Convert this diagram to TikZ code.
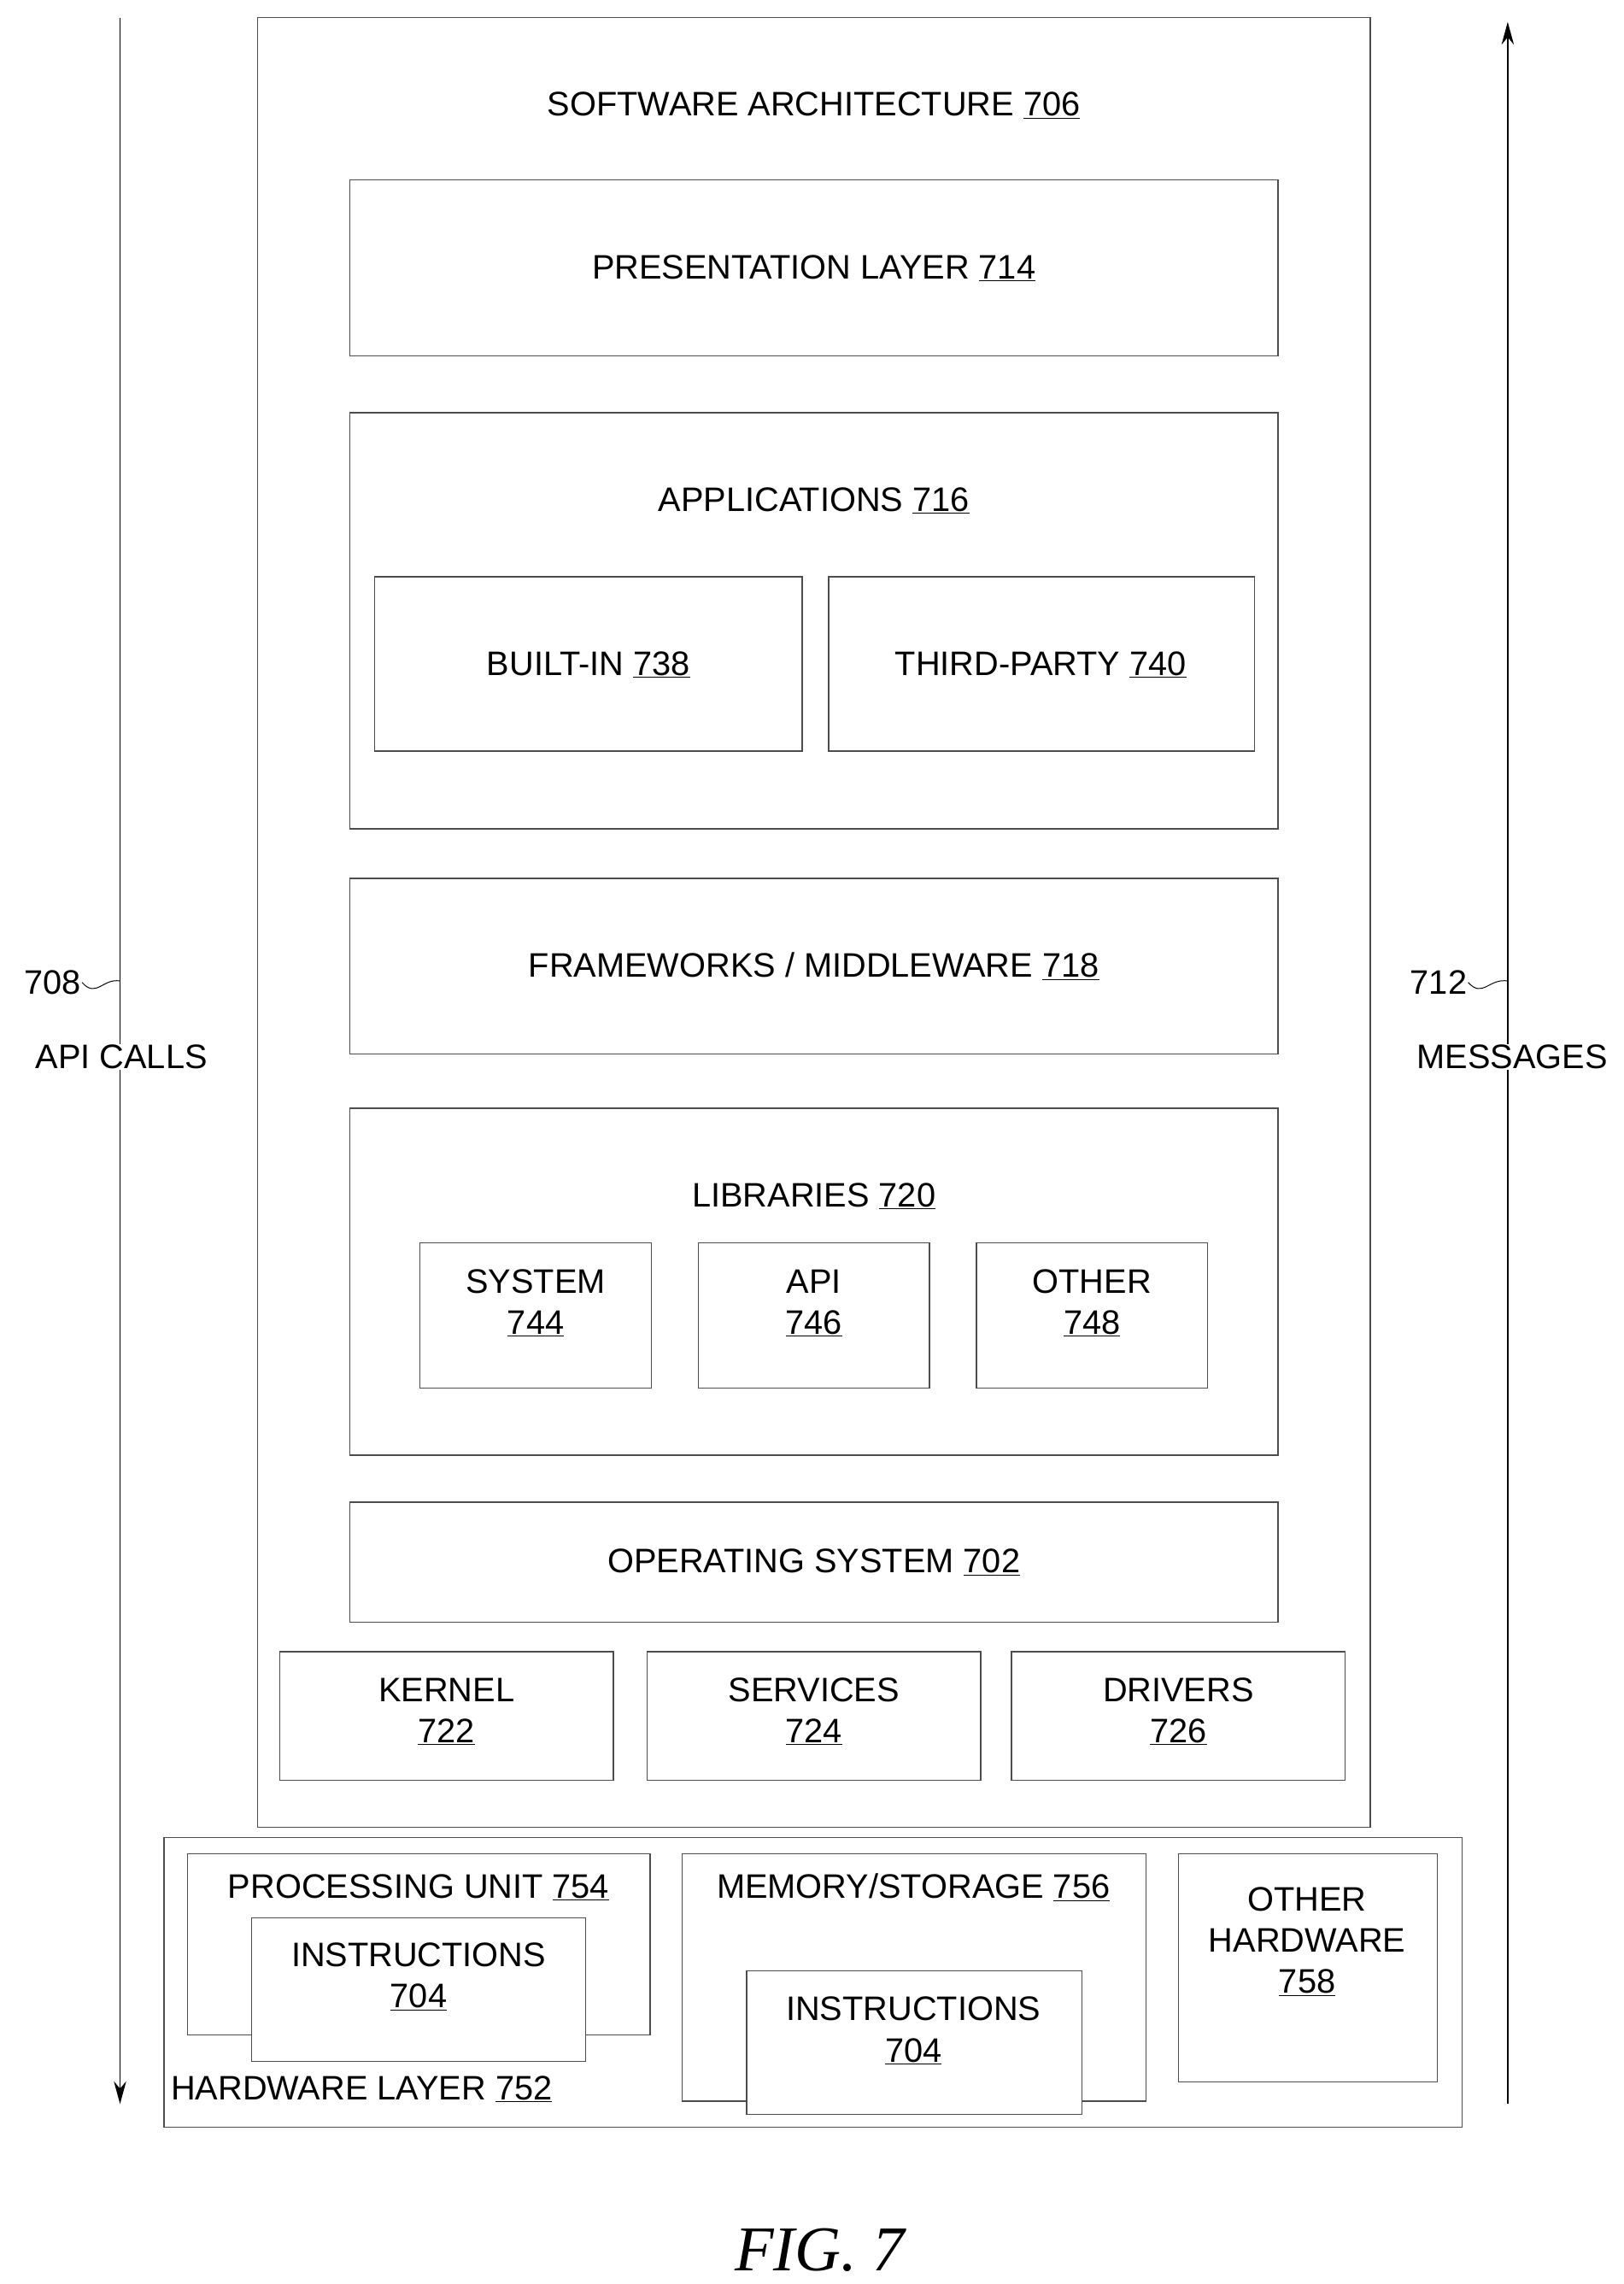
\documentclass[tikz,border=0pt]{standalone}
\usetikzlibrary{arrows.meta}
\usepackage{fontspec}
\setmainfont{Liberation Sans}
\newfontfamily\figfont{Liberation Serif}
\begin{document}
\begin{tikzpicture}[x=0.05cm,y=-0.05cm,
  bx/.style={draw=black!70,line width=1.2pt,fill=white},
  t/.style={font=\fontsize{33}{40}\selectfont,align=center,inner sep=1pt},
  ar/.style={line width=1.6pt,-{Stealth[length=22pt,width=12pt]}}]
\useasboundingbox (0,0) rectangle (1109,1560);
\coordinate (lt) at (82,12); \coordinate (lb) at (82,1437);
\coordinate (rb) at (1030,1437); \coordinate (rt) at (1030,15);
\draw[ar] (lt) -- (lb);
\draw[ar] (rb) -- (rt);
\node[t,fill=white] (api) at (83,722) {API CALLS};
\node[t,fill=white] (msg) at (1033,722) {MESSAGES};
\node[t,anchor=east] (n708) at (56,671) {708};
\node[t,anchor=east] (n712) at (1003,671) {712};
\draw[line width=0.8pt] (n708.east) .. controls (66,682) and (70,668) .. (82,670);
\draw[line width=0.8pt] (n712.east) .. controls (1013,682) and (1017,668) .. (1030,670);

\draw[bx] (176,12) rectangle (936,1248);
\node[t] (sa) at (556,72) {SOFTWARE ARCHITECTURE \underline{706}};
\draw[bx] (239,123) rectangle (873,243); \node[t] (pl) at (556,183) {PRESENTATION LAYER \underline{714}};
\draw[bx] (239,282) rectangle (873,566); \node[t] (ap) at (556,342) {APPLICATIONS \underline{716}};
\draw[bx] (256,394) rectangle (548,513); \node[t] (bi) at (402,454) {BUILT-IN \underline{738}};
\draw[bx] (566,394) rectangle (857,513); \node[t] (tp) at (711,454) {THIRD-PARTY \underline{740}};
\draw[bx] (239,600) rectangle (873,720); \node[t] (fw) at (556,660) {FRAMEWORKS / MIDDLEWARE \underline{718}};
\draw[bx] (239,757) rectangle (873,994); \node[t] (lib) at (556,817) {LIBRARIES \underline{720}};
\draw[bx] (287,849) rectangle (445,948); \node[t] (sys) at (366,890) {SYSTEM\\\underline{744}};
\draw[bx] (477,849) rectangle (635,948); \node[t] (lapi) at (556,890) {API\\\underline{746}};
\draw[bx] (667,849) rectangle (825,948); \node[t] (oth) at (746,890) {OTHER\\\underline{748}};
\draw[bx] (239,1026) rectangle (873,1108); \node[t] (os) at (556,1067) {OPERATING SYSTEM \underline{702}};
\draw[bx] (191,1128) rectangle (419,1216); \node[t] (ker) at (305,1169) {KERNEL\\\underline{722}};
\draw[bx] (442,1128) rectangle (670,1216); \node[t] (srv) at (556,1169) {SERVICES\\\underline{724}};
\draw[bx] (691,1128) rectangle (919,1216); \node[t] (drv) at (805,1169) {DRIVERS\\\underline{726}};

\draw[bx] (112,1255) rectangle (999,1453);
\node[t,anchor=west] (hl) at (116,1427) {HARDWARE LAYER \underline{752}};
\draw[bx] (128,1266) rectangle (444,1390); \node[t] (pu) at (286,1289) {PROCESSING UNIT \underline{754}};
\draw[bx] (172,1310) rectangle (400,1408); \node[t] (i1) at (286,1350) {INSTRUCTIONS\\\underline{704}};
\draw[bx] (466,1266) rectangle (783,1435); \node[t] (ms) at (624,1289) {MEMORY/STORAGE \underline{756}};
\draw[bx] (510,1346) rectangle (739,1444); \node[t] (i2) at (624,1387) {INSTRUCTIONS\\\underline{704}};
\draw[bx] (805,1266) rectangle (982,1422); \node[t] (oh) at (893,1326) {OTHER\\HARDWARE\\\underline{758}};

\node[font=\figfont\itshape\fontsize{62}{70}\selectfont] (fig) at (560,1537) {FIG. 7};
\end{tikzpicture}
\end{document}
